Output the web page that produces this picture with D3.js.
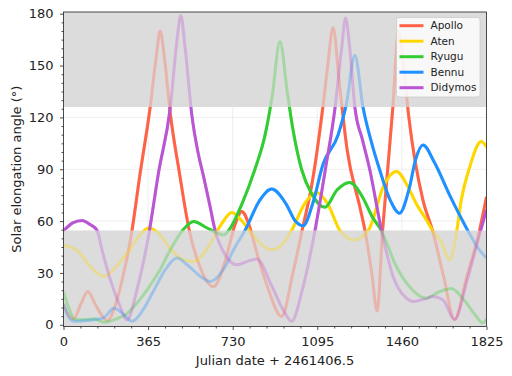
<!DOCTYPE html>
<html>
<head>
<meta charset="utf-8">
<script src="https://cdn.jsdelivr.net/npm/d3@7"></script>
<style>
	body { margin: 0; background: #fff; }
	svg { display: block; font-family: "DejaVu Sans", sans-serif; }
</style>
</head>
<body>
<svg id="chart" width="512" height="376"></svg>
<script>
// asteroid names + colours (legend order)
const names = ["Apollo", "Aten", "Ryugu", "Bennu", "Didymos"],
	colors = ["#ff6347", "#ffd700", "#32cd32", "#1e90ff", "#ba55d3"];

// [day, elongation deg]
const apollo = [[0,12],[20,6],[44,3.5],[75,12],[105,19.3],[140,11],[188,2.5],[230,14],[260,30],[290,50],
	[331,88],[374,126],[400,155],[417,170],[435,155],[461,122],[500,88],[542,55],[590,33],[647,22],
	[700,38],[740,58],[769,65.6],[800,58],[834,41.6],[880,22],[941,4.8],[990,30],[1030,55],[1070,80],
	[1119,126],[1140,150],[1163,172],[1190,140],[1224,101],[1278,68.5],[1300,55],[1330,30],[1353,8],
	[1377,55],[1400,92],[1421,126],[1445,170],[1468,148],[1490,120],[1551,72],[1592,54.6],[1640,28],
	[1687,3],[1740,28],[1795,54.6],[1825,74]];
const aten = [[0,46],[59,43],[120,33],[174,28],[230,34],[288,44],[330,52],[367,56],[410,53],[461,44],
	[510,38],[561,36.6],[620,44],[680,58],[726,65],[770,60],[810,53],[850,47],[898,43.4],[940,46],
	[984,54.6],[1040,70],[1092,76.6],[1140,70],[1192,54.6],[1230,50],[1257,49],[1290,51],[1321,56],
	[1380,80],[1436,88.7],[1493,78],[1522,70],[1560,62],[1592,54.6],[1630,48],[1666,37.6],[1697,54.6],
	[1716,72],[1752,91],[1802,106],[1825,103]];
const ryugu = [[0,19],[25,9],[50,3],[90,3],[130,3.5],[175,1.5],[220,3],[270,6],[320,13],[370,22],
	[417,32],[461,43.4],[516,55],[561,59.8],[620,56],[690,52],[715,55],[770,70],[826,90],[870,110],
	[900,132],[934,164],[965,135],[990,113],[1027,90],[1070,76],[1128,68],[1180,78],[1235,82.4],
	[1290,74],[1330,63],[1371,54.6],[1436,33.7],[1493,22],[1565,15.4],[1620,19],[1673,21],[1730,14],
	[1780,5],[1809,1],[1825,3.5]];
const bennu = [[0,12],[20,5],[44,2],[100,2.5],[172,4],[217,9.6],[260,6],[296,2],[340,8],[390,20],
	[440,32],[489,38.6],[540,34],[590,28],[633,25],[690,32],[740,45],[783,54.6],[848,72.3],[898,78.5],
	[960,70],[1000,60],[1034,57.3],[1075,70],[1120,93],[1185,110],[1221,128],[1257,156],[1292,126],
	[1330,105],[1364,89.7],[1410,72],[1450,64.6],[1490,78],[1520,96],[1551,104],[1600,94],[1666,75],
	[1744,54.6],[1790,44],[1825,38.6]];
const didymos = [[0,54.4],[40,59],[80,60.4],[115,58],[145,54.6],[166,43.4],[200,27],[240,12],[274,2.9],
	[320,22],[365,50],[410,88],[461,126],[490,165],[506,179],[525,160],[554,121],[580,100],[604,86],
	[630,70],[654,54.6],[700,40],[748,34.7],[800,37],[834,38],[900,22],[950,8],[984,2],[1030,20],
	[1085,54.6],[1130,90],[1172,126],[1200,160],[1217,177.5],[1235,160],[1257,126],[1290,107],
	[1321,90],[1372,54.6],[1422,28],[1479,15.4],[1508,13.5],[1560,15],[1594,16.4],[1637,14.5],
	[1687,3],[1740,25],[1800,54.6],[1825,66.5]];
const series = [apollo, aten, ryugu, bennu, didymos];

const xTicks = [0, 365, 730, 1095, 1460, 1825],
	yTicks = [0, 30, 60, 90, 120, 150, 180];
const lowLimit = 54.6, highLimit = 126; // shaded = outside observable range

const W = 512, H = 376,
	m = {left: 63.5, right: 25.5, top: 12, bottom: 49.5},
	x0 = m.left, x1 = W - m.right, y0 = H - m.bottom, y1 = m.top;

const x = d3.scaleLinear().domain([0, 1825]).range([x0, x1]),
	y = d3.scaleLinear().domain([-1, 181]).range([y0, y1]);

const svg = d3.select("#chart");

// grid
svg.append("g").selectAll("line.gx").data(xTicks).join("line")
	.attr("x1", d => x(d)).attr("x2", d => x(d)).attr("y1", y1).attr("y2", y0)
	.attr("stroke", "#b0b0b0").attr("stroke-opacity", 0.25).attr("stroke-width", 0.8);
svg.append("g").selectAll("line.gy").data(yTicks).join("line")
	.attr("x1", x0).attr("x2", x1).attr("y1", d => y(d)).attr("y2", d => y(d))
	.attr("stroke", "#b0b0b0").attr("stroke-opacity", 0.25).attr("stroke-width", 0.8);

// shaded bands
svg.append("rect").attr("x", x0).attr("width", x1 - x0)
	.attr("y", y(lowLimit)).attr("height", y0 - y(lowLimit)).attr("fill", "#dcdcdc");
svg.append("rect").attr("x", x0).attr("width", x1 - x0)
	.attr("y", y1).attr("height", y(highLimit) - y1).attr("fill", "#dcdcdc");

svg.append("clipPath").attr("id", "band")
	.append("rect").attr("x", x0).attr("width", x1 - x0)
	.attr("y", y(highLimit)).attr("height", y(lowLimit) - y(highLimit));
svg.append("clipPath").attr("id", "plot")
	.append("rect").attr("x", x0).attr("width", x1 - x0).attr("y", y1).attr("height", y0 - y1);

const line = d3.line().x(d => x(d[0])).y(d => y(d[1])).curve(d3.curveMonotoneX);

// faded full trace, then bright part inside the band
const lines = svg.append("g").attr("clip-path", "url(#plot)");
series.forEach((s, i) => {
	lines.append("path").attr("d", line(s)).attr("fill", "none")
		.attr("stroke", colors[i]).attr("stroke-opacity", 0.32).attr("stroke-width", 3);
});
series.forEach((s, i) => {
	lines.append("path").attr("d", line(s)).attr("fill", "none").attr("clip-path", "url(#band)")
		.attr("stroke", colors[i]).attr("stroke-width", 3);
});

// axes
const xMinor = d3.range(0, 1826, 73).filter(d => d % 365 != 0),
	yMinor = d3.range(0, 181, 5).filter(d => d % 30 != 0);

function styleAxis(g) {
	g.select(".domain").remove();
	g.selectAll("line").attr("stroke", "#222").attr("stroke-width", 0.8);
	g.selectAll("text").attr("fill", "#222").style("font-size", "13px").style("font-family", "DejaVu Sans");
}
svg.append("g").attr("transform", `translate(0,${y0})`)
	.call(d3.axisBottom(x).tickValues(xTicks).tickSize(3.5).tickPadding(7).tickFormat(d3.format("d")))
	.call(styleAxis);
svg.append("g").attr("transform", `translate(0,${y0})`)
	.call(d3.axisBottom(x).tickValues(xMinor).tickSize(2).tickFormat(""))
	.call(styleAxis);
svg.append("g").attr("transform", `translate(${x0},0)`)
	.call(d3.axisLeft(y).tickValues(yTicks).tickSize(3.5).tickPadding(6.5))
	.call(styleAxis);
svg.append("g").attr("transform", `translate(${x0},0)`)
	.call(d3.axisLeft(y).tickValues(yMinor).tickSize(2).tickFormat(""))
	.call(styleAxis);

// frame
svg.append("rect").attr("x", x0).attr("y", y1).attr("width", x1 - x0).attr("height", y0 - y1)
	.attr("fill", "none").attr("stroke", "#222").attr("stroke-width", 0.8);

// labels
svg.append("text").attr("x", (x0 + x1) / 2).attr("y", 365).attr("text-anchor", "middle")
	.style("font-size", "13px").attr("fill", "#222").text("Julian date + 2461406.5");
svg.append("text").attr("transform", `translate(21,${(y0 + y1) / 2}) rotate(-90)`)
	.attr("text-anchor", "middle").style("font-size", "13px").attr("fill", "#222")
	.text("Solar elongation angle (°)");

// legend
const legend = svg.append("g");
legend.append("rect").attr("x", 396.5).attr("y", 17.5).attr("width", 83.5).attr("height", 79.5)
	.attr("rx", 2.5).attr("fill", "#fff").attr("fill-opacity", 0.8)
	.attr("stroke", "#cccccc").attr("stroke-width", 0.8);
names.forEach((n, i) => {
	const ly = 25.7 + i * 15.5;
	legend.append("line").attr("x1", 399.5).attr("x2", 423.5).attr("y1", ly).attr("y2", ly)
		.attr("stroke", colors[i]).attr("stroke-width", 3);
	legend.append("text").attr("x", 430.5).attr("y", ly).attr("dy", "0.36em")
		.style("font-size", "10.5px").attr("fill", "#222").text(n);
});
</script>
</body>
</html>
